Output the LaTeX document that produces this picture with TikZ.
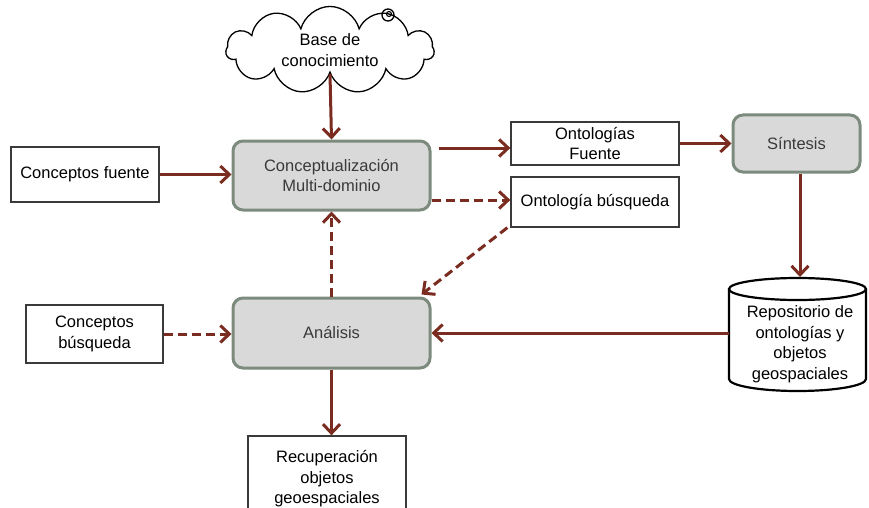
\documentclass[tikz,border=0pt]{standalone}
\usepackage{fontspec}
\setmainfont{Liberation Sans}
\usetikzlibrary{arrows.meta,shapes.symbols}
\definecolor{flow}{HTML}{7B2C20}
\definecolor{procfill}{HTML}{D9D9D9}
\definecolor{procedge}{HTML}{7D8B7E}
\definecolor{ink}{HTML}{3A3A3A}

\tikzset{
  lbl/.style={font=\fontsize{16.5}{20.5}\selectfont, align=center, text=black},
  databox/.style={lbl, draw=ink, line width=1.3pt, fill=white, inner sep=0pt},
  procbox/.style={lbl, draw=procedge, line width=3pt, fill=procfill,
    rounded corners=10pt, inner sep=0pt, text=ink},
  flowarrow/.style={draw=flow, line width=3pt,
    -{Straight Barb[length=9pt,width=17pt,line width=3pt]}},
  dashflow/.style={flowarrow, dash pattern=on 9pt off 5pt},
}

\begin{document}
\begin{tikzpicture}[x=1pt,y=-1pt]
\useasboundingbox[fill=white] (0,0) rectangle (869,508);

% knowledge base cloud
\node[lbl, cloud, draw=black, line width=1.3pt, fill=white, cloud puffs=11,
  aspect=2.3, minimum width=208pt, minimum height=86pt, inner sep=0pt]
  (kb) at (330,50) {Base de\\conocimiento};
\draw[line width=1.3pt] (388,15) circle[radius=6pt];
\draw[line width=1.1pt] (389,14) circle[radius=2.5pt];

% processes
\node[procbox, minimum width=197pt, minimum height=69pt] (concep) at (331.5,175.5)
  {Conceptualización\\Multi-dominio};
\node[procbox, minimum width=127pt, minimum height=57pt] (sintesis) at (796.5,143.5)
  {Síntesis};
\node[procbox, minimum width=197pt, minimum height=70pt] (analisis) at (331.5,333)
  {Análisis};

% inputs and outputs
\node[databox, minimum width=148pt, minimum height=55pt] (cfuente) at (85,174.5)
  {Conceptos fuente};
\node[databox, minimum width=168pt, minimum height=43pt] (ofuente) at (595,143.5)
  {Ontologías\\Fuente};
\node[databox, minimum width=168pt, minimum height=50pt] (obusq) at (595,202)
  {Ontología búsqueda};
\node[databox, minimum width=137pt, minimum height=58pt] (cbusq) at (94.5,334)
  {Conceptos\\búsqueda};
\node[databox, minimum width=158pt, minimum height=86pt] (recup) at (327,479)
  {Recuperación\\objetos\\geoespaciales};

% repository cylinder
\draw[line width=2.2pt, fill=white] (729,289) -- (729,379)
  arc[start angle=180, end angle=360, x radius=68.5pt, y radius=12pt] -- (866,289);
\draw[line width=2.2pt, fill=white] (797.5,289) ellipse[x radius=68.5pt, y radius=11pt];
\node[lbl] (repo) at (800,344) {Repositorio de\\ontologías y\\objetos\\geospaciales};
\coordinate (repotop) at (800,277);
\coordinate (repoleft) at (729,333);

% flows
\draw[flowarrow] (kb.south) -- (concep.north);
\draw[flowarrow] (cfuente.east) -- (cfuente.east -| concep.west);
\draw[flowarrow] ([xshift=7pt,yshift=-4.5pt]ofuente.west -| concep.east)
  -- ([yshift=-4.5pt]ofuente.west);
\draw[dashflow] ([yshift=2pt]obusq.west -| concep.east) -- ([yshift=2pt]obusq.west);
\draw[flowarrow] (ofuente.east) -- (ofuente.east -| sintesis.west);
\draw[flowarrow] (sintesis.south -| repotop) -- (repotop);
\draw[flowarrow] (repoleft) -- (repoleft -| analisis.east);
\draw[dashflow] ([xshift=-3pt]obusq.south west) -- ([xshift=-10pt,yshift=2pt]analisis.north east);
\draw[dashflow] (analisis.north) -- (concep.south);
\draw[dashflow] (cbusq.east) -- (cbusq.east -| analisis.west);
\draw[flowarrow] (analisis.south) -- (analisis.south |- recup.north);
\end{tikzpicture}
\end{document}
